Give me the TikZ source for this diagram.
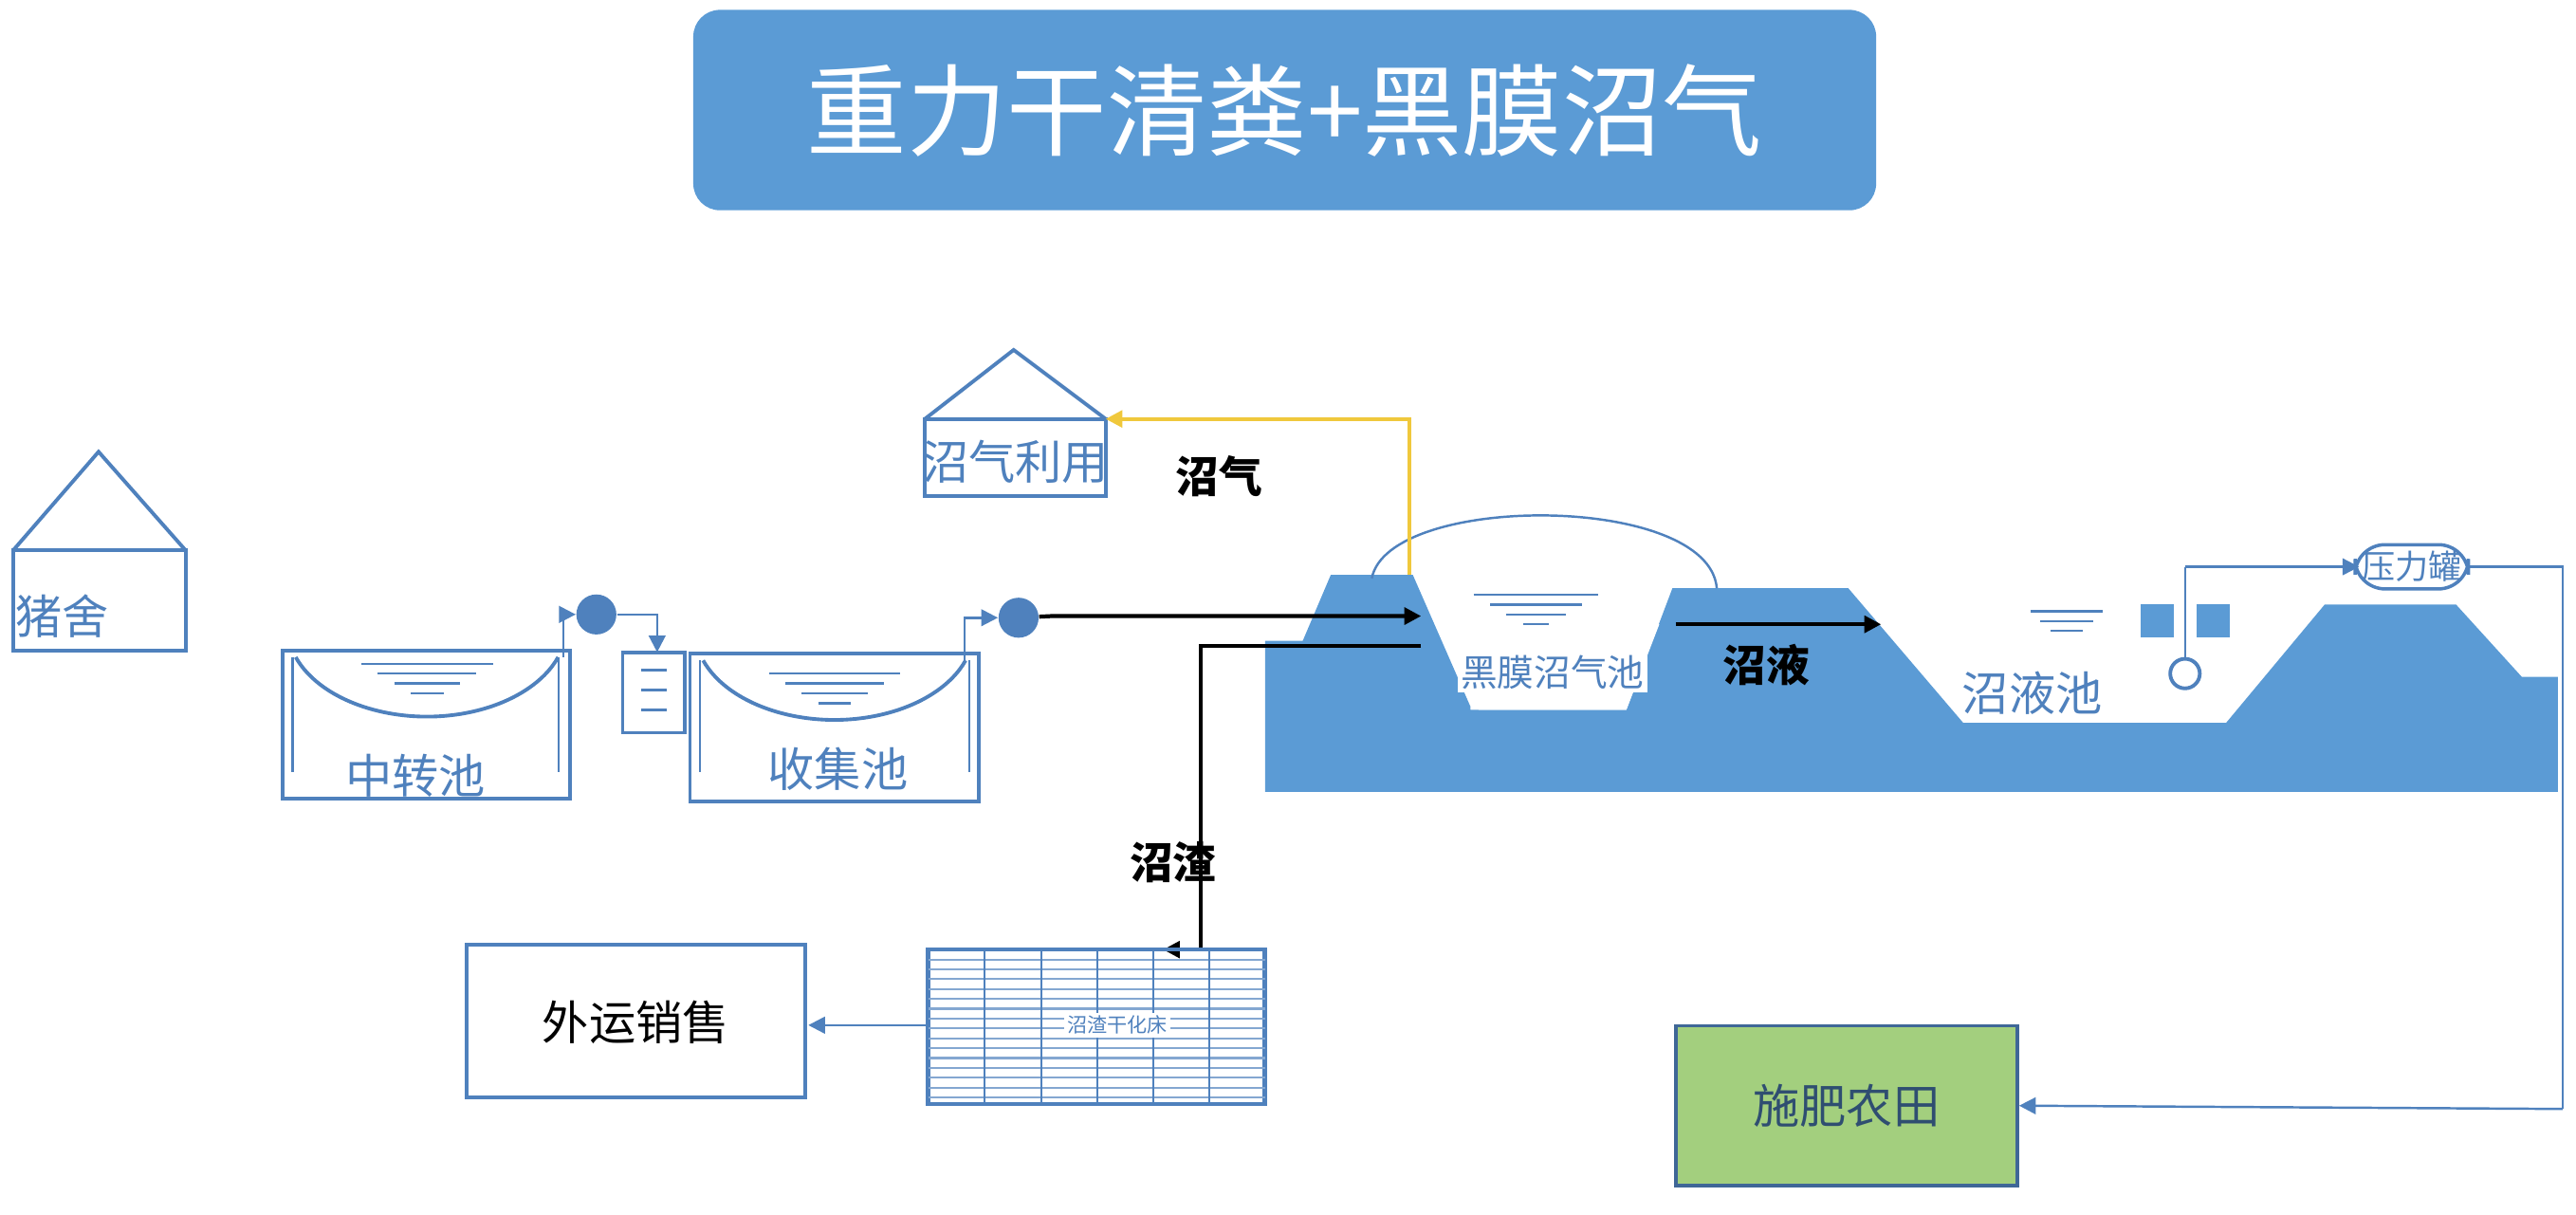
\documentclass[tikz,border=0pt]{standalone}
\usepackage{fontspec}
\setmainfont{Noto Sans CJK SC}
\usetikzlibrary{arrows.meta}
\definecolor{bl}{HTML}{5B9BD5}
\definecolor{ln}{HTML}{4F81BD}
\definecolor{gr}{HTML}{A3CF7E}
\begin{document}
\begin{tikzpicture}[x=0.01732cm,y=-0.01732cm,
  pl/.style={draw=ln,line width=1.1pt},
  thin/.style={draw=ln,line width=0.7pt},
  lab/.style={text=ln,font=\fontsize{14}{14}\selectfont},
  blk/.style={text=black,font=\bfseries\fontsize{13}{13}\selectfont},
  arr/.style={-{Triangle[length=5pt,width=5pt]}},
  pump/.style={circle,fill=ln,minimum size=12pt,inner sep=0pt}]
\useasboundingbox (0,0) rectangle (1568,739);
% title
\node[fill=bl,rounded corners=6pt,minimum width=720\pgflinewidth,text=white,font=\fontsize{30}{30}\selectfont] (title) at (782,67) {};
\fill[bl,rounded corners=8pt] (422,6) rectangle (1142,128);
\node[text=white,font=\fontsize{30}{30}\selectfont] (tt) at (782,67) {重力干清粪+黑膜沼气};
% houses
\draw[pl] (8,335) rectangle (113,396); \draw[pl] (8,335)--(60,275)--(113,335);
\node[lab] (zs) at (38,375) {猪舍};
\draw[pl] (563,255) rectangle (673,302); \draw[pl] (563,255)--(617,213)--(673,255);
\node[lab] (zqly) at (618,281) {沼气利用};
% ground
\fill[bl] (770,482)--(770,390)--(793,390)--(810,350)--(860,350)--(895,430)--(895,432)--(990,432)--(1018,358)--(1125,358)--(1195,440)--(1355,440)--(1415,368)--(1495,368)--(1535,412)--(1557,412)--(1557,482)--cycle;
\fill[white] (900,380)--(900,432)--(990,432)--(1010,380)--cycle;
\draw[thin] (835,352) .. controls (845,300) and (1040,300) .. (1045,358);
\foreach \w/\y in {38/362,28/368,18/374,8/380}{\draw[thin] (935-\w,\y)--(935+\w,\y);}
\node[text=ln,font=\fontsize{11}{11}\selectfont,fill=white,inner sep=1pt] (hm) at (945,409) {黑膜沼气池};
\foreach \w/\y in {22/372,16/378,10/384}{\draw[thin] (1258-\w,\y)--(1258+\w,\y);}
\node[lab] (zyc) at (1237,422) {沼液池};
\node[blk] (zy) at (1075,405) {沼液};
\draw[black,line width=1.2pt,arr] (1020,380)--(1145,380);
% tanks
\draw[pl] (172,396) rectangle (347,486);
\draw[pl] (180,400) arc[start angle=160,end angle=20,x radius=85,y radius=55] ;
\draw[thin] (178,400)--(178,470); \draw[thin] (340,400)--(340,470);
\foreach \w/\y in {40/404,30/410,20/416,10/422}{\draw[thin] (260-\w,\y)--(260+\w,\y);}
\node[lab] (zzc) at (253,472) {中转池};
\draw[pl] (420,398) rectangle (596,488);
\draw[pl] (428,402) arc[start angle=160,end angle=20,x radius=85,y radius=55];
\draw[thin] (426,402)--(426,470); \draw[thin] (590,402)--(590,470);
\foreach \w/\y in {40/410,30/416,20/422,10/428}{\draw[thin] (508-\w,\y)--(508+\w,\y);}
\node[lab] (sjc) at (510,468) {收集池};
% pumps and filter
\node[pump] (p1) at (363,374) {};
\node[pump] (p2) at (620,376) {};
\draw[thin,arr] (343,400)--(343,374)--(p1);
\draw[pl] (379,397) rectangle (417,446);
\foreach \y in {408,420,432}{\draw[thin] (390,\y)--(406,\y);}
\coordinate (fin) at (400,397);
\draw[thin,arr] (p1)--(400,374)--(fin);
\draw[thin,arr] (587,402)--(587,376)--(p2);
\coordinate (dg) at (865,375);
\draw[black,line width=1.2pt,arr] (p2)--(640,375)--(dg);
% biogas
\draw[draw={rgb,255:red,240;green,200;blue,60},line width=1.1pt,arr] (858,350)--(858,255)--(673,255);
\node[blk] (zq) at (742,290) {沼气};
% residue
\draw[black,line width=1.1pt,arr] (865,393)--(731,393)--(731,578)--(708,578);
\node[blk] (zz) at (714,525) {沼渣};
\draw[ln,line width=1.3pt] (565,578) rectangle (770,672);
\foreach \y in {584,590,...,668}{\draw[ln!70,line width=0.6pt] (565,\y)--(770,\y);}
\foreach \x in {599,634,668,702,736}{\draw[ln,line width=0.6pt] (\x,578)--(\x,672);}
\node[text=ln,fill=white,inner sep=1pt,font=\fontsize{6}{6}\selectfont] (gh) at (680,624) {沼渣干化床};
\draw[pl] (284,575) rectangle (490,668);
\node[text=black,font=\fontsize{14}{14}\selectfont] (wy) at (387,622) {外运销售};
\draw[thin,arr] (565,624)--(492,624);
% right equipment
\fill[bl] (1303,368) rectangle (1323,388);
\fill[bl] (1337,368) rectangle (1357,388);
\draw[thin] (1330,400)--(1330,345);
\draw[pl,fill=white] (1330,410) circle (9);
\draw[thin,arr] (1330,345)--(1436,345);
\node[draw=ln,line width=1pt,rounded corners=9pt,minimum width=58pt*0.58,text=ln,font=\fontsize{10}{10}\selectfont,inner sep=2pt] (ylg) at (1468,345) {压力罐};
\draw[thin] (ylg.east)--(1560,345)--(1560,675);
\node[draw=ln!80!black,fill=gr,line width=1pt,minimum width=208*0.01732cm,minimum height=97*0.01732cm,font=\fontsize{14}{14}\selectfont,text=ln!60!black] (sf) at (1124,673) {施肥农田};
\draw[thin,arr] (1560,675)--(sf.east);
\end{tikzpicture}
\end{document}
